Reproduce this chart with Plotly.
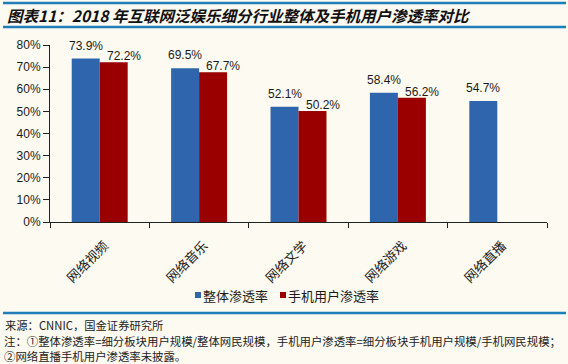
import plotly.graph_objects as go

categories = ["网络视频", "网络音乐", "网络文学", "网络游戏", "网络直播"]
overall_rate = [73.9, 69.5, 52.1, 58.4, 54.7]
mobile_rate = [72.2, 67.7, 50.2, 56.2, None]
series_names = ["整体渗透率", "手机用户渗透率"]
y_ticks = [0, 10, 20, 30, 40, 50, 60, 70, 80]

title_text = "图表11：2018 年互联网泛娱乐细分行业整体及手机用户渗透率对比"
source_text = "来源：CNNIC，国金证券研究所"
note1 = "注：①整体渗透率=细分板块用户规模/整体网民规模，手机用户渗透率=细分板块手机用户规模/手机网民规模；"
note2 = "②网络直播手机用户渗透率未披露。"

BLUE = "#2E65AD"
RED = "#9A0000"
BG = "#FDFAF1"
LINE = "#1F7DB8"
CJK = "Noto Sans CJK SC"
LAT = "Liberation Sans, Arial, sans-serif"
colors = [BLUE, RED]

W, H = 568, 364

fig = go.Figure()
fig.add_trace(go.Bar(x=categories, y=overall_rate, name=series_names[0],
                     marker=dict(color=colors[0], line=dict(width=0)), showlegend=False))
fig.add_trace(go.Bar(x=categories, y=mobile_rate, name=series_names[1],
                     marker=dict(color=colors[1], line=dict(width=0)), showlegend=False))

annotations = []
for c, v in zip(categories, overall_rate):
    annotations.append(dict(x=c, y=v, xref="x", yref="y", text=f"{v:.1f}%",
                            showarrow=False, xshift=-14, yshift=13, yanchor="middle",
                            font=dict(family=LAT, size=12, color="#1a1a1a")))
for c, v in zip(categories, mobile_rate):
    if v is None:
        continue
    annotations.append(dict(x=c, y=v, xref="x", yref="y", text=f"{v:.1f}%",
                            showarrow=False, xshift=24, yshift=6, yanchor="middle",
                            font=dict(family=LAT, size=12, color="#1a1a1a")))

# plot area: x 50..547 px, y 45..222 px
def px_x(p):
    return (p - 50) / 497.0

def px_y(p):
    return (222 - p) / 177.0

annotations.append(dict(xref="paper", yref="paper", x=px_x(5), y=px_y(15),
                        xanchor="left", yanchor="middle", showarrow=False,
                        text=f"<b><i>{title_text}</i></b>",
                        font=dict(family=CJK, size=15.5, color="#111111")))
annotations.append(dict(xref="paper", yref="paper", x=px_x(3), y=px_y(325),
                        xanchor="left", yanchor="middle", showarrow=False,
                        text=source_text, font=dict(family=CJK, size=11.3, color="#222222")))
annotations.append(dict(xref="paper", yref="paper", x=px_x(3), y=px_y(348.5),
                        xanchor="left", yanchor="middle", showarrow=False, align="left",
                        text=note1 + "<br>" + note2, borderpad=0,
                        font=dict(family=CJK, size=11.4, color="#222222")))

shapes = []
for yy in (3, 27, 313):
    shapes.append(dict(type="line", xref="paper", yref="paper",
                       x0=px_x(3), x1=px_x(566), y0=px_y(yy), y1=px_y(yy),
                       line=dict(color=LINE, width=2.5)))

# legend (swatch + label), laid out left to right
legend_x = [195, 280]
for name, col, lx in zip(series_names, colors, legend_x):
    shapes.append(dict(type="rect", xref="paper", yref="paper",
                       x0=px_x(lx), x1=px_x(lx + 6), y0=px_y(298), y1=px_y(292),
                       fillcolor=col, line=dict(width=0)))
    annotations.append(dict(xref="paper", yref="paper", x=px_x(lx + 6), y=px_y(295),
                            xanchor="left", yanchor="middle", showarrow=False,
                            text=name, font=dict(family=CJK, size=13, color="#1a1a1a")))

fig.update_layout(
    width=W, height=H,
    margin=dict(l=50, r=21, t=45, b=142, autoexpand=False),
    paper_bgcolor=BG, plot_bgcolor=BG,
    barmode="group", bargap=0.437, bargroupgap=0,
    showlegend=False,
    annotations=annotations,
    shapes=shapes,
    xaxis=dict(type="category", showline=True, linecolor="#222222", linewidth=1,
               ticks="outside", tickson="boundaries", ticklen=5, tickcolor="#222222",
               tickangle=-45, showgrid=False, zeroline=False, automargin=False,
               ticklabelstandoff=10, ticklabelshift=5,
               tickfont=dict(family=CJK, size=13, color="#1a1a1a")),
    yaxis=dict(range=[0, 80], tickvals=y_ticks, ticktext=[f"{t}%" for t in y_ticks],
               showline=True, linecolor="#222222", linewidth=1,
               ticks="outside", ticklen=6, tickcolor="#222222",
               showgrid=False, zeroline=False, automargin=False,
               tickfont=dict(family=LAT, size=12, color="#1a1a1a")),
)

fig.write_html("out.html", config={"displayModeBar": False},
               post_script="document.body.style.margin='0';document.body.style.padding='0';"
                           "document.body.style.background='" + BG + "';")
